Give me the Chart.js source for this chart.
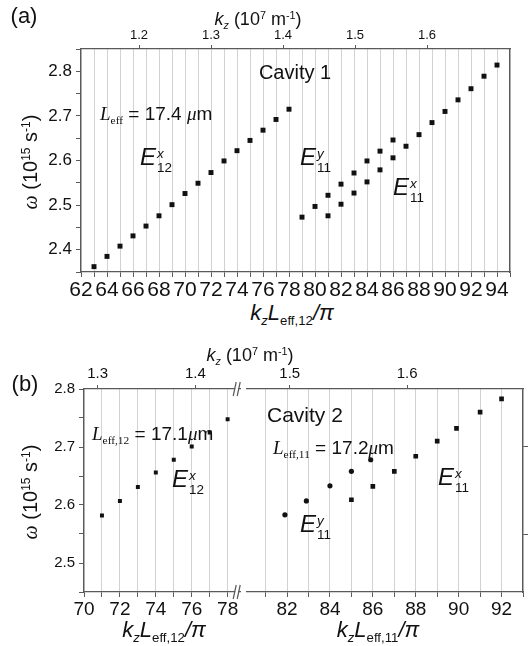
<!DOCTYPE html>
<html>
<head>
<meta charset="utf-8">
<script src="https://cdn.jsdelivr.net/npm/chart.js@4.4.0/dist/chart.umd.min.js"></script>
<style>
  body { margin: 0; background: #fff; }
  #wrap { position: relative; width: 532px; height: 646px; font-family: "Liberation Sans", Arial, sans-serif; color: #111; }
  canvas { position: absolute; }
  .t { position: absolute; white-space: nowrap; line-height: 1; transform: translate(-50%, -50%); }
  .l { position: absolute; white-space: nowrap; line-height: 1; transform: translateY(-50%); }
  .rot { transform: translate(-50%, -50%) rotate(-90deg); }
  i { font-style: italic; }
  .sf { font-family: "Liberation Serif", "Times New Roman", serif; }
  sub { font-size: 60%; vertical-align: -0.4em; line-height: 0; }
  sup { font-size: 60%; vertical-align: 0.6em; line-height: 0; }
  .ss { display: inline-block; vertical-align: -0.5em; font-size: 56%; line-height: 1.05; margin-left: 1px; }
  .ss > span { display: block; }
</style>
</head>
<body>
<div id="wrap">
  <canvas id="cA" width="532" height="300" style="left:0;top:0"></canvas>
  <canvas id="cB1" width="243" height="282" style="left:0;top:340px"></canvas>
  <canvas id="cB2" width="289" height="282" style="left:243px;top:340px"></canvas>

  <!-- panel (a) text -->
  <div class="t" style="left:24px;top:16px;font-size:22px">(a)</div>
  <div class="t" style="left:258px;top:19px;font-size:18px"><i>k</i><sub><i>z</i></sub> (10<sup>7</sup> m<sup>-1</sup>)</div>
  <div class="t" style="left:295px;top:72px;font-size:20px">Cavity 1</div>
  <div class="l" style="left:100px;top:113px;font-size:19px"><span class="sf"><i>L</i><sub>eff</sub></span> = 17.4 <span class="sf"><i>μ</i></span>m</div>
  <div class="l" style="left:140px;top:160px;font-size:24px"><i>E</i><span class="ss"><span><i>x</i></span><span>12</span></span></div>
  <div class="l" style="left:300px;top:160px;font-size:24px"><i>E</i><span class="ss"><span><i>y</i></span><span>11</span></span></div>
  <div class="l" style="left:393px;top:190px;font-size:24px"><i>E</i><span class="ss"><span><i>x</i></span><span>11</span></span></div>
  <div class="t" style="left:292px;top:313px;font-size:22px"><i>k</i><sub><i>z</i></sub><i>L</i><sub>eff,12</sub><i>/π</i></div>
  <div class="t rot" style="left:30px;top:162px;font-size:20px"><i class="sf">ω</i> (10<sup>15</sup> s<sup>-1</sup>)</div>

  <!-- panel (b) text -->
  <div class="t" style="left:25px;top:384px;font-size:22px">(b)</div>
  <div class="t" style="left:250px;top:355px;font-size:18px"><i>k</i><sub><i>z</i></sub> (10<sup>7</sup> m<sup>-1</sup>)</div>
  <div class="l" style="left:267px;top:414px;font-size:21px">Cavity 2</div>
  <div class="l" style="left:92px;top:433px;font-size:19px"><span class="sf"><i>L</i><sub>eff,12</sub></span> = 17.1<span class="sf"><i>μ</i></span>m</div>
  <div class="l" style="left:273px;top:447px;font-size:19px"><span class="sf"><i>L</i><sub>eff,11</sub></span> = 17.2<span class="sf"><i>μ</i></span>m</div>
  <div class="l" style="left:172px;top:482px;font-size:24px"><i>E</i><span class="ss"><span><i>x</i></span><span>12</span></span></div>
  <div class="l" style="left:300px;top:527px;font-size:24px"><i>E</i><span class="ss"><span><i>y</i></span><span>11</span></span></div>
  <div class="l" style="left:438px;top:480px;font-size:24px"><i>E</i><span class="ss"><span><i>x</i></span><span>11</span></span></div>
  <div class="t" style="left:164px;top:630px;font-size:22px"><i>k</i><sub><i>z</i></sub><i>L</i><sub>eff,12</sub><i>/π</i></div>
  <div class="t" style="left:378px;top:630px;font-size:22px"><i>k</i><sub><i>z</i></sub><i>L</i><sub>eff,11</sub><i>/π</i></div>
  <div class="t rot" style="left:30px;top:492px;font-size:20px"><i class="sf">ω</i> (10<sup>15</sup> s<sup>-1</sup>)</div>
</div>

<script>
// ---- data: k_z L_eff / pi (mode number) and omega (1e15 s^-1)
// cavity 1 (panel a)
const nE12a  = [63, 64, 65, 66, 67, 68, 69, 70, 71, 72, 73, 74, 75, 76, 77, 78];
const wE12a  = [2.362, 2.385, 2.408, 2.431, 2.453, 2.476, 2.501, 2.526, 2.549, 2.573, 2.599, 2.622, 2.645, 2.668, 2.692, 2.715];
const nE11yA = [79, 80, 81, 82, 83, 84, 85, 86];
const wE11yA = [2.473, 2.497, 2.522, 2.547, 2.572, 2.599, 2.621, 2.646];
const nE11xA = [81, 82, 83, 84, 85, 86, 87, 88, 89, 90, 91, 92, 93, 94];
const wE11xA = [2.476, 2.502, 2.527, 2.552, 2.579, 2.606, 2.632, 2.658, 2.685, 2.710, 2.736, 2.761, 2.789, 2.814];

// cavity 2 (panel b)
const nE12b  = [71, 72, 73, 74, 75, 76, 77, 78];
const wE12b  = [2.582, 2.607, 2.631, 2.656, 2.678, 2.701, 2.725, 2.748];
const nE11yB = [81.9, 82.9, 84, 85, 85.9];
const wE11yB = [2.583, 2.607, 2.633, 2.658, 2.678];
const nE11xB = [85, 86, 87, 88, 89, 89.9, 91, 92];
const wE11xB = [2.609, 2.632, 2.658, 2.684, 2.710, 2.732, 2.760, 2.783];

// effective lengths (um) used for the top k_z axes
const LeffA = 17.4, Leff12B = 17.1, Leff11B = 17.2;

// tick labels
const xLabelsA  = [62, 64, 66, 68, 70, 72, 74, 76, 78, 80, 82, 84, 86, 88, 90, 92, 94];
const xLabelsB1 = [70, 72, 74, 76, 78];
const xLabelsB2 = [82, 84, 86, 88, 90, 92];
const kzTicksA  = [1.2, 1.3, 1.4, 1.5, 1.6];
const kzTicksB1 = [1.3, 1.4];
const kzTicksB2 = [1.5, 1.6];
const rightTicksB = [2.55, 2.7];

const FONT = '"Liberation Sans", Arial, Helvetica, sans-serif';
const AX = '#5a5a5a';
const GRID = '#d2d2d2';

// k_z in 1e7 m^-1 for a mode number n and length L in um
const kz = (n, L) => n * Math.PI / (10 * L);
const pts = (xs, ys) => xs.map((x, i) => ({x: x, y: ys[i]}));
const onStep = (v, step) => Math.abs(v / step - Math.round(v / step)) < 1e-6;

function bottomAxis(min, max, labels, size, h) {
  return {
    type: 'linear', position: 'bottom', min: min, max: max,
    ticks: {
      stepSize: 1, autoSkip: false, maxRotation: 0, includeBounds: false, padding: 1,
      color: '#111', font: {family: FONT, size: size},
      callback: v => labels.includes(v) ? String(v) : ''
    },
    grid: {display: true, drawOnChartArea: true, color: GRID, lineWidth: 1,
      tickLength: 5, tickColor: AX, tickWidth: 1},
    border: {color: AX, width: 1.3},
    afterFit: s => { s.height = h; }
  };
}

function topAxis(min, max, ticksList, size, h) {
  return {
    type: 'linear', position: 'top', min: min, max: max,
    afterBuildTicks: s => { s.ticks = ticksList.map(v => ({value: v})); },
    ticks: {color: '#111', font: {family: FONT, size: size}, padding: 2, maxRotation: 0, autoSkip: false,
      callback: v => v.toFixed(1)},
    grid: {drawOnChartArea: false, tickLength: 4, tickColor: AX},
    border: {color: AX, width: 1.3},
    afterFit: s => { s.height = h; }
  };
}

function leftAxis(min, max, size, w) {
  return {
    position: 'left', min: min, max: max,
    ticks: {stepSize: 0.05, includeBounds: false, autoSkip: false, padding: 4, color: '#111',
      font: {family: FONT, size: size},
      callback: v => onStep(v, 0.1) ? v.toFixed(1) : ''},
    grid: {drawOnChartArea: false, tickLength: 5, tickColor: AX},
    border: {color: AX, width: 1.3},
    afterFit: s => { s.width = w; }
  };
}

function rightAxis(min, max, w, ticksList) {
  return {
    position: 'right', min: min, max: max,
    afterBuildTicks: s => { s.ticks = (ticksList || []).map(v => ({value: v})); },
    ticks: {display: false},
    grid: {drawOnChartArea: false, drawTicks: !!ticksList, tickLength: 5, tickColor: AX},
    border: {color: AX, width: 1.3},
    afterFit: s => { s.width = w; }
  };
}

function ds(data, style, r) {
  return {data: data, pointStyle: style, pointRadius: r, pointHoverRadius: r,
    backgroundColor: '#111', borderColor: '#111', borderWidth: 0, showLine: false};
}

const common = {
  responsive: false, animation: false,
  layout: {padding: 0},
  plugins: {legend: {display: false}, tooltip: {enabled: false}}
};

// panel (a)
new Chart(document.getElementById('cA'), {
  type: 'scatter',
  data: {datasets: [
    ds(pts(nE12a, wE12a), 'rect', 3.5),
    ds(pts(nE11yA, wE11yA), 'rect', 3.5),
    ds(pts(nE11xA, wE11xA), 'rect', 3.5)
  ]},
  options: Object.assign({}, common, {
    scales: {
      x: bottomAxis(62, 95, xLabelsA, 21, 28),
      xTop: topAxis(kz(62, LeffA), kz(95, LeffA), kzTicksA, 13, 49),
      y: leftAxis(2.35, 2.85, 17, 81),
      yR: rightAxis(2.35, 2.85, 22)
    }
  })
});

// axis break marks drawn at the right end of the left part of panel (b)
const breakMarks = {
  id: 'breakMarks',
  afterDraw(chart) {
    const {ctx, chartArea} = chart;
    const r = chartArea.right;
    ctx.save();
    [chartArea.top, chartArea.bottom].forEach(y => {
      ctx.fillStyle = '#fff';
      ctx.fillRect(r - 5, y - 2, 3, 4);
      ctx.strokeStyle = AX;
      ctx.lineWidth = 1.2;
      [r - 5.5, r - 1.5].forEach(x => {
        ctx.beginPath();
        ctx.moveTo(x - 1.5, y + 7);
        ctx.lineTo(x + 1.5, y - 7);
        ctx.stroke();
      });
    });
    ctx.restore();
  }
};

// panel (b), left part
new Chart(document.getElementById('cB1'), {
  type: 'scatter',
  data: {datasets: [ds(pts(nE12b, wE12b), 'rect', 2.8)]},
  options: Object.assign({}, common, {
    scales: {
      x: bottomAxis(70, 78.7, xLabelsB1, 19, 30),
      xTop: topAxis(kz(70, Leff12B), kz(78.7, Leff12B), kzTicksB1, 15, 49),
      y: leftAxis(2.45, 2.8, 15, 84)
    }
  }),
  plugins: [breakMarks]
});

// panel (b), right part
new Chart(document.getElementById('cB2'), {
  type: 'scatter',
  data: {datasets: [
    ds(pts(nE11yB, wE11yB), 'circle', 2.6),
    ds(pts(nE11xB, wE11xB), 'rect', 3.3)
  ]},
  options: Object.assign({}, common, {
    scales: {
      x: bottomAxis(80.1, 93, xLabelsB2, 19, 30),
      xTop: topAxis(kz(80.1, Leff11B), kz(93, Leff11B), kzTicksB2, 15, 49),
      y: Object.assign(leftAxis(2.45, 2.8, 15, 0), {display: false}),
      yR: rightAxis(2.45, 2.8, 9, rightTicksB)
    }
  })
});
</script>
</body>
</html>
